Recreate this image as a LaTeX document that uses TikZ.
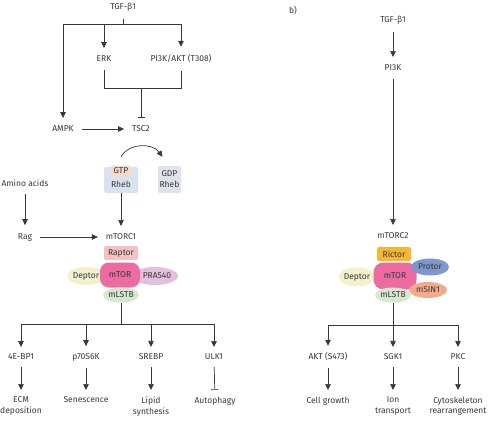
\documentclass[tikz,border=0pt]{standalone}
\usepackage{fontspec}
\setmainfont{Fira Sans}
\usetikzlibrary{arrows.meta,shapes.geometric,positioning}
\definecolor{txt}{HTML}{383838}
\definecolor{rhebblue}{HTML}{D9E2EF}
\definecolor{gdpblue}{HTML}{DDE2EB}
\definecolor{gtppeach}{HTML}{F6DCC8}
\definecolor{raptorpink}{HTML}{F5C2C2}
\definecolor{mtorpink}{HTML}{EC6CA2}
\definecolor{deptorcol}{HTML}{F3F1CF}
\definecolor{pracol}{HTML}{E4C0DF}
\definecolor{mlstcol}{HTML}{D7E8D1}
\definecolor{rictorcol}{HTML}{F8B733}
\definecolor{protorcol}{HTML}{7F98CC}
\definecolor{msincol}{HTML}{F4AA8C}
\tikzset{lbl/.style={font=\fontsize{8.5}{10.5}\selectfont,text=txt,inner sep=1pt,outer sep=7pt,align=center},
  outc/.style={lbl,anchor=north,outer sep=6pt},
  arr/.style={-{Triangle[length=6pt,width=5.5pt]},line width=0.7pt,draw=txt},
  inh/.style={-{Bar[width=7pt]},line width=0.7pt,draw=txt},
  ln/.style={line width=0.7pt,draw=txt}}
\begin{document}
\begin{tikzpicture}[x=1pt,y=-1pt,
 sub/.style={ellipse,inner sep=0pt,font=\fontsize{8.5}{10}\selectfont,text=txt},
 tag/.style={rectangle,rounded corners=2pt,inner sep=0pt,font=\fontsize{8.5}{10}\selectfont,text=txt}]
\useasboundingbox (0,0) rectangle (492,428);
% panel a: upstream
\node[lbl] (tgfa) at (123,7) {TGF-β1};
\coordinate (bra) at (123,24);
\node[lbl] (erk) at (104,59) {ERK};
\node[lbl] (pi3kakt) at (181,59) {PI3K/AKT (T308)};
\node[lbl] (ampk) at (63,129) {AMPK};
\node[lbl] (tsc) at (141,129) {TSC2};
\coordinate (joina) at (141,88);
\draw[ln] (tgfa) -- (bra);
\draw[arr] (bra) -| (ampk);
\draw[arr] (bra) -| (pi3kakt);
\draw[arr] (bra -| erk) -- (erk);
\draw[ln] (erk) -- (erk |- joina) -- (pi3kakt |- joina) -- (pi3kakt);
\draw[inh] (joina) -- (tsc);
\draw[arr] (ampk) -- (tsc);
% Rheb cycle
\node[tag,fill=rhebblue,minimum width=34pt,minimum height=26pt] (rheba) at (121,180) {};
\node[tag,fill=gtppeach,minimum width=20pt,minimum height=11pt] (gtp) at (121,171) {GTP};
\node[tag] (rhebtxta) at (121,184) {Rheb};
\node[tag,fill=gdpblue,minimum width=23pt,minimum height=27pt,align=center] (rhebb) at (169.5,179.5) {GDP\\[1pt]Rheb};
\draw[arr] ([yshift=10pt]rheba.north) .. controls +(8,-14) and +(-10,-14) .. ([xshift=-7pt,yshift=9pt]rhebb.north);
% mTORC1
\node[lbl] (amino) at (25,183) {Amino acids};
\node[lbl] (rag) at (25,237) {Rag};
\node[lbl] (mtorc1) at (121,237) {mTORC1};
\draw[arr] (amino) -- (rag);
\draw[arr] (rag) -- (mtorc1);
\draw[arr] (rheba) -- (mtorc1);
\node[tag,fill=raptorpink,minimum width=34pt,minimum height=14pt] (raptor) at (121,253) {Raptor};
\node[sub,fill=deptorcol,minimum width=33pt,minimum height=18pt] (deptora) at (86,276) {Deptor};
\node[sub,fill=pracol,minimum width=37pt,minimum height=18pt] (pra) at (155,276) {\hspace*{4pt}PRA540};
\node[tag,fill=mtorpink,rounded corners=9pt,minimum width=40pt,minimum height=25pt] (mtora) at (120,275) {mTOR};
\node[sub,fill=mlstcol,minimum width=33pt,minimum height=15pt] (mlsta) at (121,295) {mLSTB};
% mTORC1 outputs
\coordinate (brb) at (121,324);
\node[lbl,outer sep=6pt] (ebp) at (21,357) {4E-BP1};
\node[lbl,outer sep=6pt] (p70) at (86,357) {p70S6K};
\node[lbl,outer sep=6pt] (srebp) at (151,357) {SREBP};
\node[lbl,outer sep=6pt] (ulk) at (214,357) {ULK1};
\draw[ln] (mlsta) -- (brb);
\draw[arr] (brb) -| (ebp);
\draw[arr] (brb) -| (ulk);
\draw[arr] (brb -| p70) -- (p70);
\draw[arr] (brb -| srebp) -- (srebp);
\node[outc] (ecm) at (21,390) {ECM\\deposition};
\node[outc] (sen) at (86,390) {Senescence};
\node[outc] (lipid) at (151,390) {Lipid\\synthesis};
\node[outc] (auto) at (215,390) {Autophagy};
\draw[arr] (ebp) -- (ecm);
\draw[arr] (p70) -- (sen);
\draw[arr] (srebp) -- (lipid);
\draw[inh] (ulk) -- (auto);
% panel b
\node[lbl] (blabel) at (293,11) {b)};
\node[lbl] (tgfb) at (393,20) {TGF-β1};
\node[lbl] (pi3k) at (393,68) {PI3K};
\node[lbl] (mtorc2) at (393,236) {mTORC2};
\draw[arr] (tgfb) -- (pi3k);
\draw[arr] (pi3k) -- (mtorc2);
\node[tag,fill=rictorcol,minimum width=34pt,minimum height=14pt] (rictor) at (394,254) {Rictor};
\node[sub,fill=deptorcol,minimum width=33pt,minimum height=19pt] (deptorb) at (357,277) {Deptor};
\node[tag,fill=mtorpink,rounded corners=10pt,minimum width=43pt,minimum height=27pt] (mtorb) at (395,276) {mTOR};
\node[sub,fill=protorcol,minimum width=38pt,minimum height=17pt] (protor) at (430,267) {Protor};
\node[sub,fill=msincol,minimum width=38pt,minimum height=16pt] (msin) at (428,290) {mSIN1};
\node[sub,fill=mlstcol,minimum width=33pt,minimum height=15pt] (mlstb) at (393,295) {mLSTB};
% mTORC2 outputs
\coordinate (brc) at (393,325);
\node[lbl,outer sep=6pt] (akt) at (328,357) {AKT (S473)};
\node[lbl,outer sep=6pt] (sgk) at (393,357) {SGK1};
\node[lbl,outer sep=6pt] (pkc) at (458,357) {PKC};
\draw[ln] (mlstb) -- (brc);
\draw[arr] (brc) -| (akt);
\draw[arr] (brc) -| (pkc);
\draw[arr] (brc) -- (sgk);
\node[outc] (cell) at (328,390) {Cell growth};
\node[outc] (ion) at (393,390) {Ion\\transport};
\node[outc] (cyto) at (458,390) {Cytoskeleton\\rearrangement};
\draw[arr] (akt) -- (cell);
\draw[arr] (sgk) -- (ion);
\draw[arr] (pkc) -- (cyto);
\end{tikzpicture}
\end{document}
